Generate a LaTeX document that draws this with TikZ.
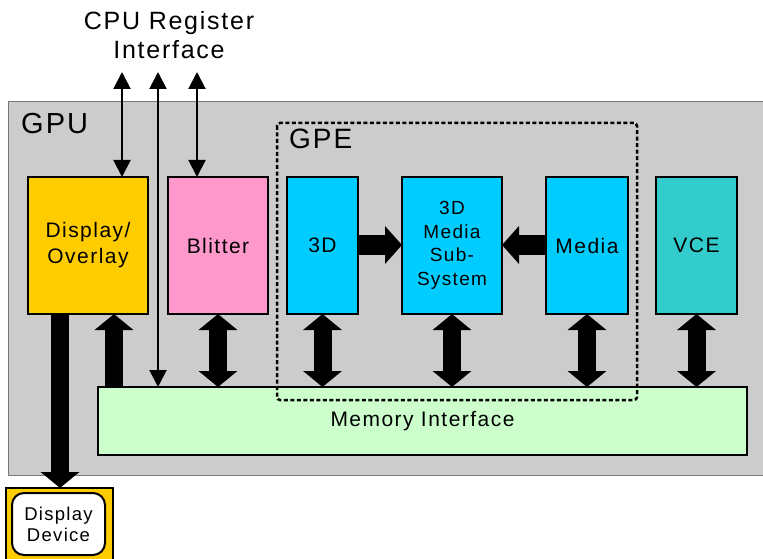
\documentclass[tikz,border=0pt]{standalone}
\usepackage{fontspec}
\setmainfont{Liberation Sans}[LetterSpace=7]
\usetikzlibrary{arrows.meta}
\definecolor{gpugray}{RGB}{204,204,204}
\definecolor{gpuborder}{RGB}{120,120,120}
\definecolor{dispyellow}{RGB}{255,204,0}
\definecolor{blitpink}{RGB}{255,153,204}
\definecolor{gpecyan}{RGB}{0,204,255}
\definecolor{vceteal}{RGB}{51,204,204}
\definecolor{memgreen}{RGB}{204,255,204}
\tikzset{
  unit/.style={draw=black, line width=2pt, inner sep=0pt, outer sep=0pt, align=center,
    font=\fontsize{21}{24}\selectfont, anchor=north west},
  bigarrow/.style={line width=18pt, {Triangle[width=38pt,length=16pt]}-{Triangle[width=38pt,length=16pt]}},
  bigone/.style={line width=18pt, -{Triangle[width=38pt,length=16pt]}},
  thinarrow/.style={line width=2pt, {Triangle[width=17pt,length=17pt]}-{Triangle[width=17pt,length=17pt]}},
  biglabel/.style={inner sep=0pt, anchor=north west},
}
\begin{document}
\begin{tikzpicture}[x=1pt,y=-1pt]
\useasboundingbox (0,0) rectangle (763,559);
\clip (0,0) rectangle (763,559);
% GPU background
\fill[gpugray] (8,102) rectangle (770,475);
\draw[gpuborder, line width=1pt] (770,102) -- (8,102) -- (8,475) -- (770,475);
\node[biglabel, font=\fontsize{29}{32}\selectfont] (gpulbl) at (21,113) {GPU};
% CPU label
\node[inner sep=0pt, align=center, font=\fontsize{25}{29}\selectfont] (cpu) at (169,35) {CPU Register\\Interface};
% units
\node[unit, fill=dispyellow, minimum width=120pt, minimum height=137pt, font=\fontsize{21}{26}\selectfont] (disp) at (28,177) {Display/\\Overlay};
\node[unit, fill=blitpink, minimum width=100pt, minimum height=137pt] (blit) at (168,177) {Blitter};
\node[unit, fill=gpecyan, minimum width=71pt, minimum height=137pt] (td) at (287,177) {3D};
\node[unit, fill=gpecyan, minimum width=100pt, minimum height=137pt, font=\fontsize{19}{23.5}\selectfont] (sub) at (402,177) {3D\\Media\\Sub-\\System};
\node[unit, fill=gpecyan, minimum width=82pt, minimum height=137pt] (media) at (546,177) {Media};
\node[unit, fill=vceteal, minimum width=81pt, minimum height=137pt] (vce) at (656,177) {VCE};
\node[unit, fill=memgreen, minimum width=649pt, minimum height=68pt] (mem) at (98,387) {Memory Interface};
% GPE dashed box (drawn over the memory interface)
\draw[line width=2.5pt, dash pattern=on 4pt off 2.5pt, rounded corners=3pt] (277,123) rectangle (637,400);
\node[biglabel, font=\fontsize{28}{32}\selectfont] (gpelbl) at (289,129) {GPE};
% display device
\draw[line width=2pt, fill=dispyellow] (6,488) rectangle (113,570);
\node[draw=black, line width=2pt, fill=white, rounded corners=12pt, minimum width=93pt, minimum height=62pt,
  inner sep=0pt, align=center, font=\fontsize{18.5}{21}\selectfont] (dev) at (58.5,524) {Display\\Device};
% coordinates for free ends and offsets
\coordinate (c1) at (122,72);
\coordinate (c2) at (158,72);
\coordinate (c3) at (197,72);
\coordinate (dispdown) at (60,314);
\coordinate (devtop) at (60,488);
\coordinate (dispup) at (114,314);
\coordinate (memup) at (114,387);
% thin arrows
\draw[thinarrow] (c1) -- (c1 |- disp.north);
\draw[thinarrow] (c2) -- (c2 |- mem.north);
\draw[thinarrow] (c3) -- (c3 |- blit.north);
% big arrows
\draw[bigone] (dispdown) -- (devtop);
\draw[bigone] (memup) -- (dispup);
\draw[bigarrow] (blit.south) -- (blit.south |- mem.north);
\draw[bigarrow] (td.south) -- (td.south |- mem.north);
\draw[bigarrow] (sub.south) -- (sub.south |- mem.north);
\draw[bigarrow] (media.south) -- (media.south |- mem.north);
\draw[bigarrow] (vce.south) -- (vce.south |- mem.north);
\draw[line width=20pt, -{Triangle[width=37pt,length=17pt]}] (td.east |- 0,245) -- (sub.west |- 0,245);
\draw[line width=20pt, -{Triangle[width=37pt,length=17pt]}] (media.west |- 0,245) -- (sub.east |- 0,245);
\end{tikzpicture}
\end{document}
